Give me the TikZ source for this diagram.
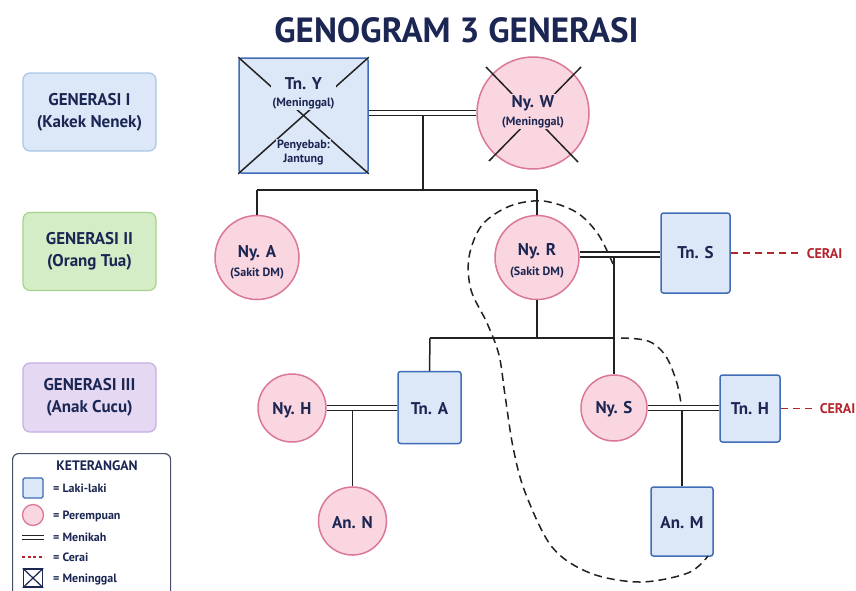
\documentclass[tikz,border=0pt]{standalone}
\usepackage{fontspec}
\setmainfont{PT Sans}
\usetikzlibrary{calc}
\definecolor{navy}{HTML}{1B2653}
\definecolor{malef}{HTML}{DCE7F7}
\definecolor{maled}{HTML}{3F6DB8}
\definecolor{femf}{HTML}{F9D6E0}
\definecolor{femd}{HTML}{DB7896}
\definecolor{g1f}{HTML}{DCE8F8}
\definecolor{g1d}{HTML}{A8C5EA}
\definecolor{g2f}{HTML}{D5EDC6}
\definecolor{g2d}{HTML}{A5D48A}
\definecolor{g3f}{HTML}{E4D8F2}
\definecolor{g3d}{HTML}{C6AEE2}
\definecolor{redc}{HTML}{B3262E}
\definecolor{linec}{HTML}{222222}
\definecolor{legd}{HTML}{48506A}
\newcommand\nmf{\bfseries\fontsize{17}{17}\selectfont}
\newcommand\subf{\bfseries\fontsize{12}{13.5}\selectfont}
\begin{document}
\begin{tikzpicture}[x=1pt,y=-1pt,
 male/.style={draw=maled, fill=malef, line width=1.5pt, rounded corners=2.5pt, inner sep=0pt},
 female/.style={circle, draw=femd, fill=femf, line width=1.5pt, inner sep=0pt},
 nm/.style={font=\nmf, text=navy, inner sep=1pt, text depth=0pt},
 sub/.style={font=\subf, text=navy, inner sep=1pt},
 link/.style={draw=linec, line width=1.5pt},
 marriage/.style={draw=linec, line width=1.6pt, double=white, double distance=3.2pt},
 cerai/.style={draw=redc, line width=1.7pt, dash pattern=on 7pt off 5pt},
 bound/.style={draw=linec, line width=1.5pt, dash pattern=on 8pt off 5pt},
 genbox/.style={rounded corners=7pt, line width=1.2pt, minimum width=133pt, minimum height=78pt, align=center, font=\bfseries\fontsize{17}{22}\selectfont, text=navy, inner sep=0pt},
 legtext/.style={font=\bfseries\fontsize{12}{13}\selectfont, text=navy, anchor=west, inner sep=0pt, text depth=0pt}
]
\useasboundingbox (0,0) rectangle (856,590);
\fill[white] (0,0) rectangle (856,590);

% title
\node[font=\bfseries\fontsize{35}{38}\selectfont, text=navy, text depth=0pt, inner sep=0pt] (title) at (456.5,30.5) {GENOGRAM 3 GENERASI};

% generation labels
\node[genbox, fill=g1f, draw=g1d] (gen1) at (89.5,112) {GENERASI I\\(Kakek Nenek)};
\node[genbox, fill=g2f, draw=g2d] (gen2) at (89.5,251.5) {GENERASI II\\(Orang Tua)};
\node[genbox, fill=g3f, draw=g3d, minimum height=69pt] (gen3) at (89.5,397.5) {GENERASI III\\(Anak Cucu)};

% generation I
\node[male, minimum width=129pt, minimum height=115pt] (TnY) at (303.5,115.5) {};
\draw[link] (TnY.north west) -- (TnY.south east) (TnY.north east) -- (TnY.south west);
\node[fill=malef, align=center, inner sep=1.5pt, text=navy, font=\nmf] (TnYt) at (303.5,93) {Tn. Y\\{\subf (Meninggal)}};
\node[fill=malef, align=center, inner sep=1.5pt, text=navy, font=\subf] (TnYc) at (303.5,152.5) {Penyebab:\\Jantung};

\node[female, minimum size=112pt] (NyW) at (533,113) {};
\coordinate (w1a) at (486,67); \coordinate (w1b) at (578,162);
\coordinate (w2a) at (581,67); \coordinate (w2b) at (489,161);
\draw[link] (w1a) -- (w1b) (w2a) -- (w2b);
\node[fill=femf, align=center, inner sep=1.5pt, text=navy, font=\nmf] (NyWt) at (533,111.5) {Ny. W\\[1pt]{\subf (Meninggal)}};

\coordinate (m1d) at (423,116);
\coordinate (sib1) at (423,190);
\coordinate (sibL) at (257,190);
\coordinate (sibR) at (537,190);
\draw[marriage] (TnY.east |- NyW.west) -- (NyW.west);
\draw[link] (m1d) -- (sib1);
\draw[link] (sibL) -- (sibR);

% generation II
\node[female, minimum size=84pt] (NyA) at (257,257.5) {};
\node[nm, anchor=base] (NyAn) at (257,257) {Ny. A};
\node[sub, anchor=base] (NyAs) at (257,276) {(Sakit DM)};
\node[female, minimum size=84pt] (NyR) at (537,257.5) {};
\node[nm, anchor=base] (NyRn) at (537,255.5) {Ny. R};
\node[sub, anchor=base] (NyRs) at (537,275) {(Sakit DM)};
\node[male, minimum width=69pt, minimum height=80pt] (TnS) at (695.5,253) {};
\node[nm] (TnSn) at (695.5,252) {Tn. S};
\draw[link] (sibL) -- (NyA.north);
\draw[link] (sibR) -- (NyR.north);
\draw[marriage] (NyR.4) -- (TnS.west |- NyR.4);

\node[font=\bfseries\fontsize{14}{15}\selectfont, text=redc, text depth=0pt, inner sep=0pt] (cer1) at (824.5,253) {CERAI};
\draw[cerai] (TnS.east) -- ([xshift=-7pt]cer1.west);

% links to generation III
\coordinate (rs) at (614,257.5);
\coordinate (sib2L) at (430,338);
\coordinate (sib2M) at (537,338);
\coordinate (sib2R) at (614,338);
\draw[link] (NyR.south) -- (sib2M);
\draw[link] (sib2L) -- (sib2R);

% generation III
\node[female, minimum size=68pt] (NyH) at (292,408) {};
\node[nm] (NyHn) at (292,408) {Ny. H};
\node[male, minimum width=63pt, minimum height=72pt] (TnA) at (429.5,407.5) {};
\node[nm] (TnAn) at (429.5,408) {Tn. A};
\draw[link] (sib2L) -- (TnA.north);
\draw[marriage] (NyH.east) -- (NyH.east -| TnA.west);
\node[female, minimum size=68pt] (AnN) at (352.5,521) {};
\node[nm] (AnNn) at (352.5,522) {An. N};
\draw[link] (AnN.north) -- ($(AnN.north |- NyH.east)+(0,3)$);

\node[female, minimum size=66pt] (NyS) at (614,408) {};
\node[nm] (NySn) at (614,407) {Ny. S};
\draw[link] (rs) -- (NyS.north);
\node[male, minimum width=60pt, minimum height=67pt] (TnH) at (750,408.5) {};
\node[nm] (TnHn) at (750,408.5) {Tn. H};
\draw[marriage] (NyS.east) -- (NyS.east -| TnH.west);
\node[font=\bfseries\fontsize{14}{15}\selectfont, text=redc, text depth=0pt, inner sep=0pt] (cer2) at (837.5,408.5) {CERAI};
\draw[cerai] (TnH.east) -- ([xshift=-7pt]cer2.west);
\node[male, minimum width=62pt, minimum height=69pt] (AnM) at (682,521.5) {};
\node[nm] (AnMn) at (682,522.5) {An. M};
\draw[link] (AnM.north) -- ($(AnM.north |- NyS.east)+(0,3)$);

% household boundary
\draw[bound] plot[smooth, tension=0.55] coordinates {(613,264) (598,234) (576,212) (543,201) (510,206) (482,225) (469,257) (471,290) (487,323) (499,355) (505,395) (513,447) (525,492) (552,547) (590,573) (640,582) (688,573) (708,556)};
\draw[bound] plot[smooth, tension=0.6] coordinates {(621,338) (648,341) (665,355) (676,380) (681,403)};

% legend
\node[draw=legd, fill=white, rounded corners=6pt, line width=1.2pt, minimum width=158pt, minimum height=160pt, anchor=north west, inner sep=0pt] (legend) at (12,453) {};
\node[font=\bfseries\fontsize{13.7}{14}\selectfont, text=navy, text depth=0pt, inner sep=0pt] (legt) at (97,466) {KETERANGAN};
\node[male, minimum width=20pt, minimum height=20pt, rounded corners=1.5pt, line width=1.3pt] (lg1) at (33,488) {};
\node[legtext] (lg1t) at (53,488) {= Laki-laki};
\node[female, minimum size=21pt, line width=1.3pt] (lg2) at (33,515) {};
\node[legtext] (lg2t) at (53,515) {= Perempuan};
\coordinate (lg3a) at (22,537.5); \coordinate (lg3b) at (44,537.5);
\draw[draw=linec, line width=1.4pt, double=white, double distance=2.2pt] (lg3a) -- (lg3b);
\node[legtext] (lg3t) at (53,537.5) {= Menikah};
\coordinate (lg4a) at (22,557); \coordinate (lg4b) at (44,557);
\draw[draw=redc, line width=1.2pt, dash pattern=on 3pt off 2.5pt] (lg4a) -- (lg4b);
\node[legtext] (lg4t) at (53,557) {= Cerai};
\node[draw=navy, fill=white, line width=1.3pt, minimum width=19pt, minimum height=18pt, inner sep=0pt] (lg5) at (33,578) {};
\draw[draw=navy, line width=1.2pt] (lg5.north west) -- (lg5.south east) (lg5.north east) -- (lg5.south west);
\node[legtext] (lg5t) at (53,578) {= Meninggal};
\end{tikzpicture}
\end{document}
